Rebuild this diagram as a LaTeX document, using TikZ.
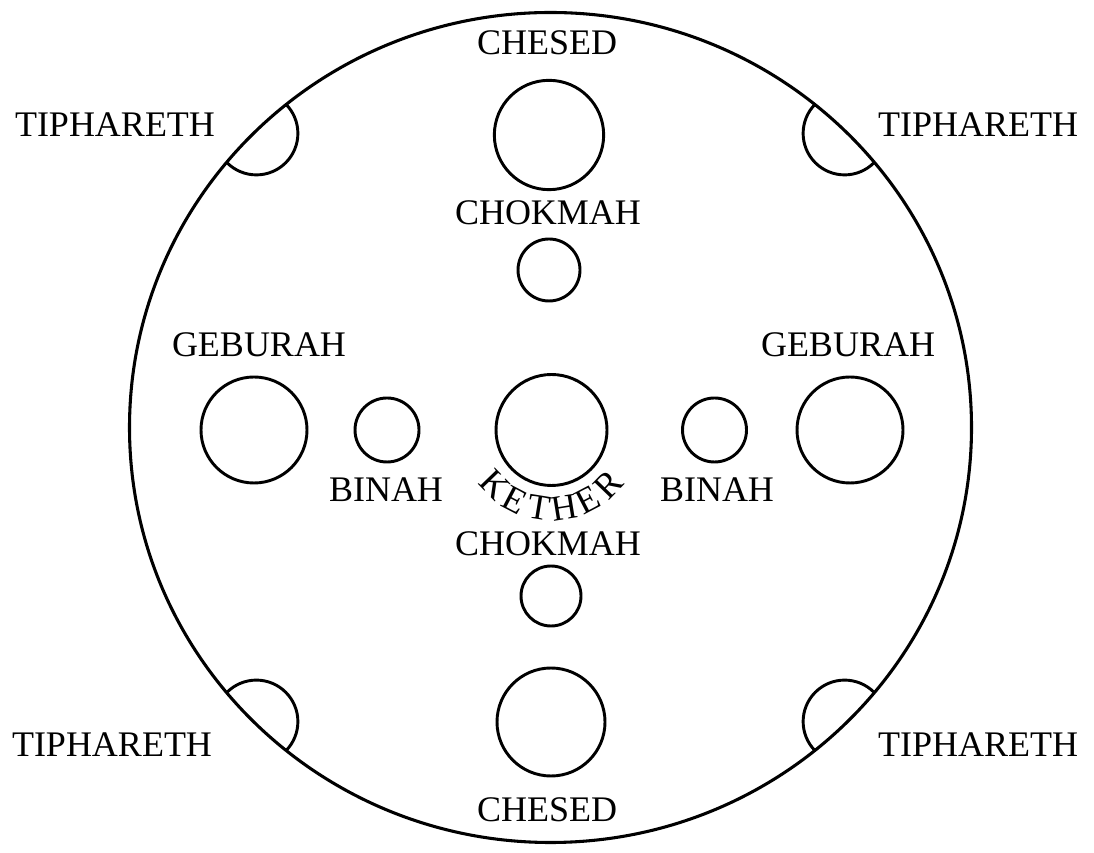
\documentclass[tikz,border=0pt]{standalone}
\usepackage{fontspec}
\setmainfont{Liberation Serif}
\usetikzlibrary{shapes.geometric}
\newcommand\lblfont{\fontsize{27}{32}\selectfont}
\begin{document}
\begin{tikzpicture}[x=0.75pt,y=0.75pt,
  lbl/.style={font=\lblfont, inner sep=0pt},
  sefira/.style={circle, draw, line width=2.2pt, inner sep=0pt, outer sep=0pt},
  bigS/.style={sefira, minimum size=82pt},
  smallS/.style={sefira, minimum size=47pt},
  halfc/.style={line width=2.2pt}
]
\useasboundingbox (0,0) rectangle (1094,852);
% outer circle
\node[ellipse, draw, line width=2.3pt, inner sep=0pt, outer sep=0pt,
      minimum width=631.5pt, minimum height=622.5pt] (outer) at (550.5,424.5) {};
% sefirot circles
\node[bigS] (chesedT) at (549,717) {};
\node[smallS, minimum size=46.5pt] (chokmahT) at (549,582) {};
\node[bigS, minimum size=79.5pt] (geburahL) at (254,422) {};
\node[smallS, minimum size=48pt] (binahL) at (387,422) {};
\node[bigS, minimum size=83.25pt] (kether) at (551.5,422) {};
\node[smallS, minimum size=48pt] (binahR) at (714.5,422) {};
\node[bigS, minimum size=79.5pt] (geburahR) at (850,422) {};
\node[smallS, minimum size=45pt] (chokmahB) at (551,256) {};
\node[bigS, minimum size=81pt] (chesedB) at (551,130) {};
% labels
\node[lbl] (tChesedT) at (547,809) {CHESED};
\node[lbl] (tChokmahT) at (548,639) {CHOKMAH};
\node[lbl] (tGeburahL) at (259,507) {GEBURAH};
\node[lbl] (tGeburahR) at (848,507) {GEBURAH};
\node[lbl] (tBinahL) at (386,362) {BINAH};
\node[lbl] (tBinahR) at (717,362) {BINAH};
\node[lbl] (tChokmahB) at (548,308) {CHOKMAH};
\node[lbl] (tChesedB) at (547,42) {CHESED};
\node[lbl] (tTiphTL) at (115,727) {TIPHARETH};
\node[lbl] (tTiphTR) at (978,727) {TIPHARETH};
\node[lbl] (tTiphBL) at (112,107) {TIPHARETH};
\node[lbl] (tTiphBR) at (978,107) {TIPHARETH};
% KETHER, letter by letter on an arc below the circle
\foreach \ch [count=\i] in {K,E,T,H,E,R}{
  \pgfmathsetmacro\ang{224+18.4*(\i-1)}
  \node[lbl, anchor=center, rotate=\ang+90] (kl\i) at ([shift={(\ang:79)}]kether.center) {\ch};
}
% Tiphareth half circles on the outer circle
\foreach \a/\n in {45/tr,135/tl,225/bl,315/br}{
  \coordinate (h\n) at ([shift={(\a+180:2)}]outer.\a);
  \draw[halfc] ([shift={(\a+90:41.5)}]h\n) arc[start angle=\a+90, delta angle=180, radius=41.5];
}
\end{tikzpicture}
\end{document}
